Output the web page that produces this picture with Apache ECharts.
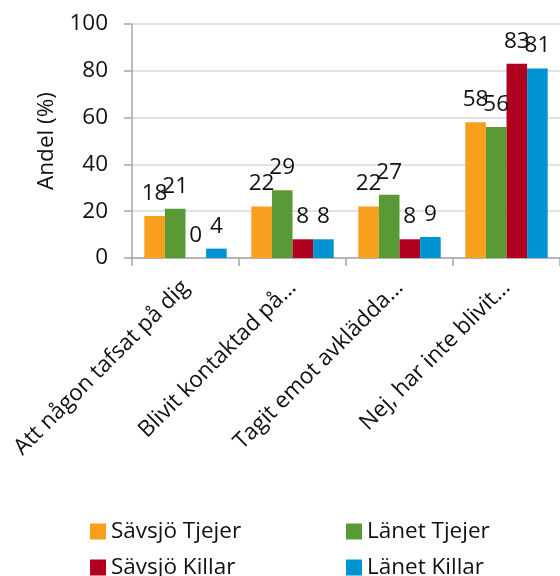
<!DOCTYPE html>
<html><head><meta charset="utf-8">
<script src="https://cdn.jsdelivr.net/npm/echarts@6/dist/echarts.min.js"></script>
<style>html,body{margin:0;padding:0;background:#fff}#c{width:560px;height:576px}</style>
</head><body><div id="c"></div>
<script>
const categories = ['Att någon tafsat på dig', 'Blivit kontaktad på…', 'Tagit emot avklädda…', 'Nej, har inte blivit…'];
const seriesNames = ['Sävsjö Tjejer', 'Länet Tjejer', 'Sävsjö Killar', 'Länet Killar'];
const savsjoTjejer = [18, 22, 22, 58];
const lanetTjejer = [21, 29, 27, 56];
const savsjoKillar = [0, 8, 8, 83];
const lanetKillar = [4, 8, 9, 81];
const yTicks = [0, 20, 40, 60, 80, 100];
const colors = ['#F89F1D', '#5A9A36', '#B0001F', '#0093D3'];
const values = [savsjoTjejer, lanetTjejer, savsjoKillar, lanetKillar];
const FONT = 'Open Sans';
const FS = 22.5;
const legendPos = [[90, 520], [346, 520], [90, 556], [346, 556]];
const chart = echarts.init(document.getElementById('c'));
chart.setOption({
  animation: false,
  textStyle: { fontFamily: FONT },
  grid: { left: 132, right: 0, top: 24, bottom: 318, containLabel: false },
  legend: seriesNames.map((n, i) => ({
    data: [n], left: legendPos[i][0], top: legendPos[i][1], padding: 0,
    icon: 'rect', itemWidth: 16, itemHeight: 16, itemGap: 0,
    textStyle: { fontFamily: FONT, fontSize: FS, color: '#111', lineHeight: 18, padding: [0, 0, 0, 0] }
  })),
  xAxis: {
    type: 'category', data: categories,
    axisLine: { lineStyle: { color: '#A6A6A6', width: 1.5 } },
    axisTick: { show: true, length: 8, interval: 0, lineStyle: { color: '#A6A6A6', width: 1.5 } },
    axisLabel: { rotate: 45, interval: 0, margin: 26, fontSize: FS, color: '#111', fontFamily: FONT }
  },
  yAxis: {
    type: 'value', min: yTicks[0], max: yTicks[yTicks.length - 1], interval: 20,
    name: 'Andel (%)', nameLocation: 'middle', nameGap: 74, nameRotate: 90,
    nameTextStyle: { fontSize: FS, color: '#111', fontFamily: FONT },
    axisLine: { show: true, lineStyle: { color: '#A6A6A6', width: 1.5 } },
    axisTick: { show: true, length: 8, lineStyle: { color: '#A6A6A6', width: 1.5 } },
    axisLabel: { fontSize: FS, color: '#111', margin: 24, fontFamily: FONT },
    splitLine: { lineStyle: { color: '#D9D9D9', width: 1.5 } }
  },
  series: seriesNames.map((n, i) => ({
    name: n, type: 'bar', data: values[i], barGap: '0%', barCategoryGap: '23%',
    itemStyle: { color: colors[i] },
    label: { show: true, position: 'top', distance: 11, fontSize: FS, color: '#111', fontFamily: FONT }
  }))
});
</script></body></html>
